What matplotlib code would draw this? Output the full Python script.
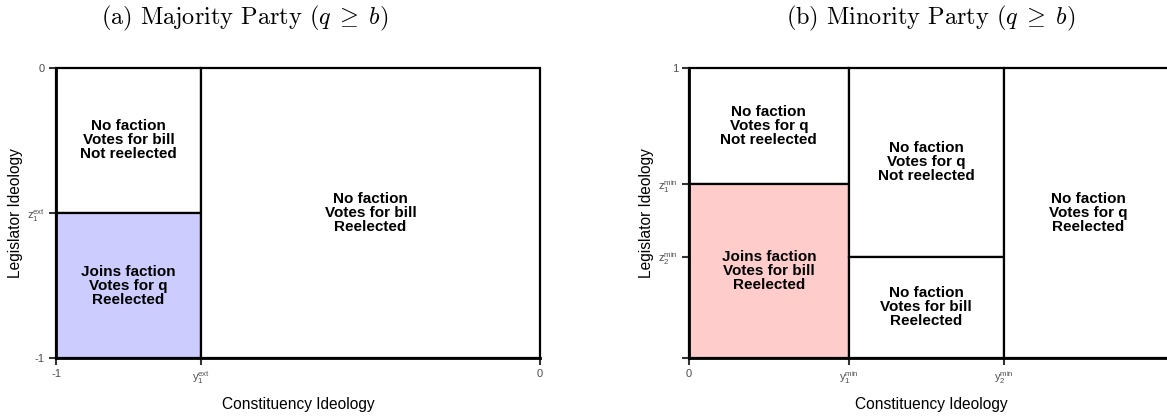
import matplotlib
matplotlib.use("Agg")
import matplotlib.pyplot as plt
from matplotlib.patches import Rectangle

plt.rcParams['font.family'] = ['Liberation Sans', 'DejaVu Sans']
plt.rcParams['mathtext.fontset'] = 'custom'
plt.rcParams['mathtext.rm'] = 'Liberation Sans'
plt.rcParams['mathtext.it'] = 'Liberation Sans'

# Panel (a): majority party
a_x_range = [-1, 0]
a_y_range = [-1, 0]
y1_ext = -0.70
z1_ext = -0.50
a_xticks = [-1, y1_ext, 0]
a_xticklabels = ['-1', r'$\mathrm{y}_1^{\mathrm{ext}}$', '0']
a_yticks = [-1, z1_ext, 0]
a_yticklabels = ['-1', r'$\mathrm{z}_1^{\mathrm{ext}}$', '0']
# regions: (x0, x1, y0, y1, fill, label)
a_regions = [
    (-1, y1_ext, z1_ext, 0, 'white', 'No faction\nVotes for bill\nNot reelected'),
    (-1, y1_ext, -1, z1_ext, '#ccccff', 'Joins faction\nVotes for q\nReelected'),
    (y1_ext, 0, -1, 0, 'white', 'No faction\nVotes for bill\nReelected'),
]

# Panel (b): minority party
b_x_range = [0, 1]
b_y_range = [0, 1]
y1_min = 0.33
y2_min = 0.65
z1_min = 0.60
z2_min = 0.35
b_xticks = [0, y1_min, y2_min, 1]
b_xticklabels = ['0', r'$\mathrm{y}_1^{\mathrm{min}}$', r'$\mathrm{y}_2^{\mathrm{min}}$', '']
b_yticks = [0, z2_min, z1_min, 1]
b_yticklabels = ['', r'$\mathrm{z}_2^{\mathrm{min}}$', r'$\mathrm{z}_1^{\mathrm{min}}$', '1']
b_regions = [
    (0, y1_min, z1_min, 1, 'white', 'No faction\nVotes for q\nNot reelected'),
    (0, y1_min, 0, z1_min, '#ffcccc', 'Joins faction\nVotes for bill\nReelected'),
    (y1_min, y2_min, z2_min, 1, 'white', 'No faction\nVotes for q\nNot reelected'),
    (y1_min, y2_min, 0, z2_min, 'white', 'No faction\nVotes for bill\nReelected'),
    (y2_min, 1, 0, 1, 'white', 'No faction\nVotes for q\nReelected'),
]

W, H = 1167, 419
fig = plt.figure(figsize=(W / 100, H / 100), dpi=100)


def panel(left_px, xr, yr, xticks, xtl, yticks, ytl, regions):
    ax = fig.add_axes([left_px / W, (H - 358) / H, 484 / W, 290 / H])
    ax.set_xlim(xr)
    ax.set_ylim(yr)
    for (x0, x1, y0, y1, fc, lab) in regions:
        ax.add_patch(Rectangle((x0, y0), x1 - x0, y1 - y0, facecolor=fc,
                               edgecolor='black', linewidth=1.6, clip_on=False))
        ax.text((x0 + x1) / 2, (y0 + y1) / 2, lab, ha='center', va='center',
                fontsize=11, fontweight='bold', linespacing=1.0)
    for s in ['top', 'right']:
        ax.spines[s].set_visible(False)
    for s in ['left', 'bottom']:
        ax.spines[s].set_color('black')
        ax.spines[s].set_linewidth(2.0)
    ax.set_xticks(xticks)
    ax.set_xticklabels(xtl)
    ax.set_yticks(yticks)
    ax.set_yticklabels(ytl)
    ax.tick_params(axis='both', length=5, width=1.5, color='#333333',
                   labelcolor='#4d4d4d', labelsize=8, pad=3)
    ax.set_xlabel('Constituency Ideology', fontsize=11.2, labelpad=8)
    ax.set_ylabel('Legislator Ideology', fontsize=11.2, labelpad=3)
    return ax


panel(56, a_x_range, a_y_range, a_xticks, a_xticklabels, a_yticks, a_yticklabels, a_regions)
panel(689, b_x_range, b_y_range, b_xticks, b_xticklabels, b_yticks, b_yticklabels, b_regions)

title_kw = dict(fontsize=17.5, family='cmr10', ha='center', va='center')
fig.text(245 / W, 1 - 18 / H, r'(a) Majority Party $(q\;\geq\;b)$', math_fontfamily='cm', **title_kw)
fig.text(931 / W, 1 - 18 / H, r'(b) Minority Party $(q\;\geq\;b)$', math_fontfamily='cm', **title_kw)

fig.savefig('out.png', dpi=100)
